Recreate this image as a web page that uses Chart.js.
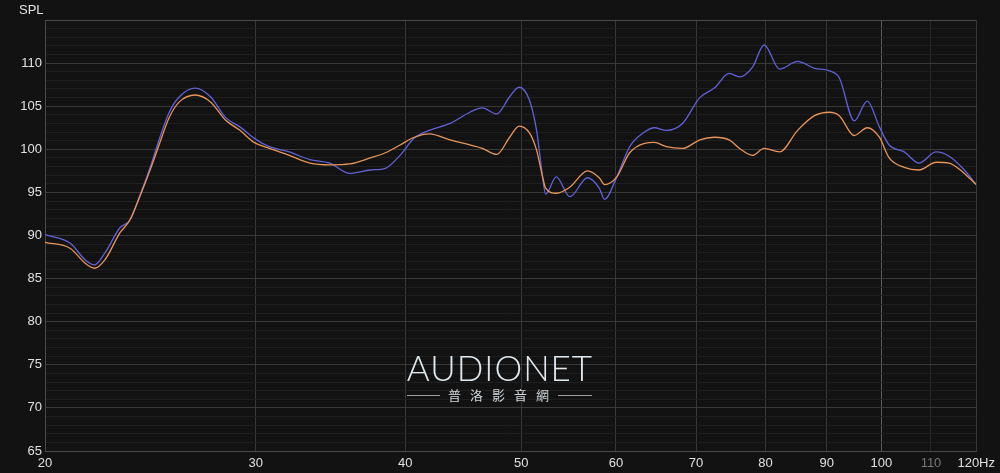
<!DOCTYPE html>
<html>
<head>
<meta charset="utf-8">
<script src="https://cdn.jsdelivr.net/npm/chart.js@4/dist/chart.umd.min.js"></script>
<style>
  html, body { margin: 0; padding: 0; background: #121212; }
  #wrap { position: relative; width: 1000px; height: 473px; }
</style>
</head>
<body>
<div id="wrap"><canvas id="spl-chart" width="1000" height="473"></canvas></div>
<script>
// frequencies (Hz) the curves were read at
const freqs = [20, 21, 21.6, 22, 22.45, 23.1, 23.55, 24, 24.5, 24.95, 25.4, 25.9, 26.7, 27.5, 28.3, 29.1, 29.9, 30.8, 32, 33.3,
  34.6, 35.95, 37.4, 38.5, 39.6, 40.7, 41.9, 43.6, 45.3, 46.4, 47.7, 48.9, 49.8, 50.8, 51.5, 52.1, 52.4, 53.5, 54.9, 56.8,
  58.1, 58.7, 60.1, 61.6, 63.4, 64.6, 66.1, 68.2, 70.5, 72.5, 74.6, 76.1, 78, 79.8, 82.2, 85.1, 87.9, 90.5, 92.2, 94.9,
  97.3, 99.6, 101.5, 104.5, 107.5, 111.1, 113.9, 117.3, 120];

const blueSpl = [90.1, 89.1, 87.2, 86.6, 88.0, 90.9, 91.8, 94.6, 98.0, 101.4, 104.3, 106.1, 107.1, 106.1, 103.7, 102.6, 101.3, 100.3, 99.7, 98.8,
  98.4, 97.2, 97.6, 97.8, 99.3, 101.3, 102.2, 103.0, 104.3, 104.8, 104.1, 106.1, 107.2, 105.7, 102.2, 96.8, 94.8, 96.8, 94.5, 96.7,
  95.5, 94.2, 96.8, 100.3, 102.0, 102.5, 102.2, 103.0, 106.0, 107.1, 108.8, 108.4, 109.5, 112.1, 109.3, 110.2, 109.4, 109.1, 108.3, 103.3,
  105.6, 102.6, 100.5, 99.7, 98.4, 99.7, 99.2, 97.6, 95.9];

const orangeSpl = [89.2, 88.5, 86.8, 86.2, 87.2, 90.3, 91.8, 94.5, 97.7, 100.8, 103.7, 105.5, 106.3, 105.5, 103.4, 102.2, 100.8, 100.1, 99.3, 98.4,
  98.2, 98.3, 99.0, 99.6, 100.5, 101.4, 101.8, 101.1, 100.5, 100.1, 99.4, 101.4, 102.7, 101.9, 99.9, 96.8, 95.5, 94.9, 95.6, 97.5,
  96.7, 95.9, 96.8, 99.6, 100.7, 100.8, 100.3, 100.1, 101.1, 101.4, 101.1, 100.1, 99.3, 100.1, 99.7, 102.2, 103.9, 104.3, 103.9, 101.6,
  102.5, 101.4, 99.0, 97.9, 97.6, 98.5, 98.4, 97.2, 95.9];

const xTicks = [20, 30, 40, 50, 60, 70, 80, 90, 100, 110, 120];
const yMin = 65;
const yMax = 115;

const font = "'Liberation Sans', Arial, sans-serif";

const overlay = {
  id: "overlay",
  beforeDatasetsDraw(chart) {
    const { ctx } = chart;
    ctx.save();
    // watermark
    ctx.textAlign = "center";
    ctx.textBaseline = "alphabetic";
    ctx.fillStyle = "#dfe9ef";
    ctx.font = "300 35px Lato, 'Open Sans', sans-serif";
    if ("letterSpacing" in ctx) ctx.letterSpacing = "1px";
    ctx.fillText("AUDIONET", 500, 381);
    if ("letterSpacing" in ctx) ctx.letterSpacing = "9px";
    ctx.fillStyle = "#cfd6da";
    ctx.font = "13px 'Noto Sans CJK TC', sans-serif";
    ctx.fillText("普洛影音網", 503, 400);
    if ("letterSpacing" in ctx) ctx.letterSpacing = "0px";
    ctx.strokeStyle = "#9aa0a4";
    ctx.lineWidth = 1;
    ctx.beginPath();
    ctx.moveTo(407, 395.5); ctx.lineTo(440, 395.5);
    ctx.moveTo(558, 395.5); ctx.lineTo(592, 395.5);
    ctx.stroke();
    ctx.restore();
  },
  afterDraw(chart) {
    const { ctx } = chart;
    ctx.save();
    ctx.fillStyle = "#e0e0e0";
    ctx.font = "13px " + font;
    ctx.textAlign = "left";
    ctx.textBaseline = "middle";
    ctx.fillText("SPL", 19, 10);
    ctx.restore();
  }
};

new Chart(document.getElementById("spl-chart").getContext("2d"), {
  type: "line",
  data: {
    datasets: [
      {
        label: "orange",
        data: freqs.map((f, i) => ({ x: f, y: orangeSpl[i] })),
        borderColor: "#e8955a",
        borderWidth: 1.3,
        pointRadius: 0,
        cubicInterpolationMode: "monotone",
        fill: false,
      },
      {
        label: "blue",
        data: freqs.map((f, i) => ({ x: f, y: blueSpl[i] })),
        borderColor: "#6262d6",
        borderWidth: 1.3,
        pointRadius: 0,
        cubicInterpolationMode: "monotone",
        fill: false,
      },
    ],
  },
  options: {
    responsive: false,
    animation: false,
    layout: { padding: { top: 20, right: 23, left: 0, bottom: 0 } },
    plugins: { legend: { display: false }, tooltip: { enabled: false } },
    scales: {
      x: {
        type: "logarithmic",
        min: 20,
        max: 120,
        afterBuildTicks: (axis) => { axis.ticks = xTicks.map((v) => ({ value: v })); },
        afterFit: (axis) => { axis.height = 22; },
        border: { display: true, color: "#4a4a4a" },
        grid: {
          drawTicks: false,
          color: (c) => (c.tick && c.tick.value === 100 ? "#5c5c5c" : c.tick && c.tick.value === 110 ? "#2a2a2a" : "#383838"),
          lineWidth: 1,
        },
        ticks: {
          autoSkip: false,
          maxRotation: 0,
          padding: 5,
          color: (c) => (c.tick && c.tick.value === 110 ? "#777" : "#e0e0e0"),
          font: { family: font, size: 13 },
          callback: (v) => (v === 120 ? "120Hz" : String(v)),
        },
      },
      y: {
        min: yMin,
        max: yMax,
        afterBuildTicks: (axis) => {
          const t = [];
          for (let v = yMin; v <= yMax; v++) t.push({ value: v });
          axis.ticks = t;
        },
        afterFit: (axis) => { axis.width = 45; },
        border: { display: true, color: "#4a4a4a" },
        grid: {
          drawTicks: false,
          color: (c) => {
            const v = c.tick ? c.tick.value : 0;
            if (v === yMax) return "#4a4a4a";
            return v % 5 === 0 ? "#3a3a3a" : "#1f1f1f";
          },
          lineWidth: 1,
        },
        ticks: {
          autoSkip: false,
          padding: 3,
          color: "#e0e0e0",
          font: { family: font, size: 13 },
          callback: (v) => (v % 5 === 0 && v !== yMax ? String(v) : ""),
        },
      },
    },
  },
  plugins: [overlay],
});
</script>
</body>
</html>
